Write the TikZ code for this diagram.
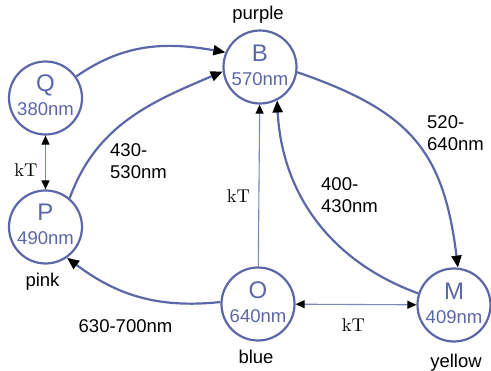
\documentclass[tikz,border=0pt]{standalone}
\usepackage{fontspec}
\newfontfamily\hel{Liberation Sans}
\newfontfamily\cmten{lmroman10-regular.otf}
\usetikzlibrary{arrows.meta}
\definecolor{nc}{RGB}{92,103,168}
\definecolor{lc}{RGB}{125,133,190}
\begin{document}
\begin{tikzpicture}[x=1pt,y=-1pt,
  st/.style={circle,draw=nc,line width=2.2pt,fill=white,minimum size=73pt,inner sep=0pt},
  big/.style={font=\hel\fontsize{24}{24}\selectfont,text=nc,anchor=base,inner sep=0pt},
  small/.style={font=\hel\fontsize{18.5}{22}\selectfont,text=nc,anchor=base,inner sep=0pt},
  lab/.style={font=\hel\fontsize{18.5}{22}\selectfont,text=black,anchor=base,inner sep=0pt},
  rng/.style={font=\hel\fontsize{18.5}{22}\selectfont,text=black,anchor=base west,align=left,inner sep=0pt},
  kt/.style={font=\cmten\fontsize{18.5}{22}\selectfont,anchor=base,inner sep=0pt},
  thk/.style={draw=nc,line width=2.2pt,-{Triangle[length=12pt,width=10pt,color=black]}},
  thn/.style={draw=lc,line width=1.1pt,-{Triangle[length=9pt,width=8pt,color=black]}},
  thnb/.style={draw=lc,line width=1.1pt,{Triangle[length=9pt,width=8pt,color=black]}-{Triangle[length=9pt,width=8pt,color=black]}}
]
\useasboundingbox (0,0) rectangle (491,371);

% circles
\node[st] (Q) at (45.5,98) {};
\node[st] (B) at (260,67) {};
\node[st] (P) at (45.5,227) {};
\node[st] (O) at (258,304) {};
\node[st] (M) at (454,305) {};

% circle texts
\node[big] (Qa) at (45.5,92) {Q};
\node[small] (Qb) at (45.5,116) {380nm};
\node[big] (Ba) at (260,62) {B};
\node[small] (Bb) at (260,86) {570nm};
\node[big] (Pa) at (45.5,221) {P};
\node[small] (Pb) at (45.5,245) {490nm};
\node[big] (Oa) at (258,299) {O};
\node[small] (Ob) at (258,323) {640nm};
\node[big] (Ma) at (454,300) {M};
\node[small] (Mb) at (454,324) {409nm};

% connectors
\draw[thk] (Q.35) to[out=35,in=170] (B.157);
\draw[thk] (P.50) to[out=70,in=203] (B.187);
\draw[thk] (B.-8) to[out=-19,in=97,looseness=1.2] (M.84);
\draw[thk] (M.162) to[out=160,in=-87] (B.-63);
\draw[thk] (O.177) to[out=186,in=-37] (P.-55);
\draw[thn] (O) -- (B);
\draw[thnb] (O) -- (M);
\draw[thnb] (Q) -- (P);

% labels
\node[lab] (lpurple) at (258,20) {purple};
\node[lab] (lpink) at (42.5,287) {pink};
\node[lab] (lblue) at (256,364) {blue};
\node[lab] (lyellow) at (456,367.5) {yellow};
\node[lab] (l630) at (125.5,333) {630-700nm};
\node[rng] (l430) at (110,179) {430-\\530nm};
\node[rng] (l520) at (427,151) {520-\\640nm};
\node[rng] (l400) at (321,213) {400-\\430nm};
\node[kt] (k1) at (26,177) {kT};
\node[kt] (k2) at (238.5,203) {kT};
\node[kt] (k3) at (353.5,332) {kT};
\end{tikzpicture}
\end{document}
